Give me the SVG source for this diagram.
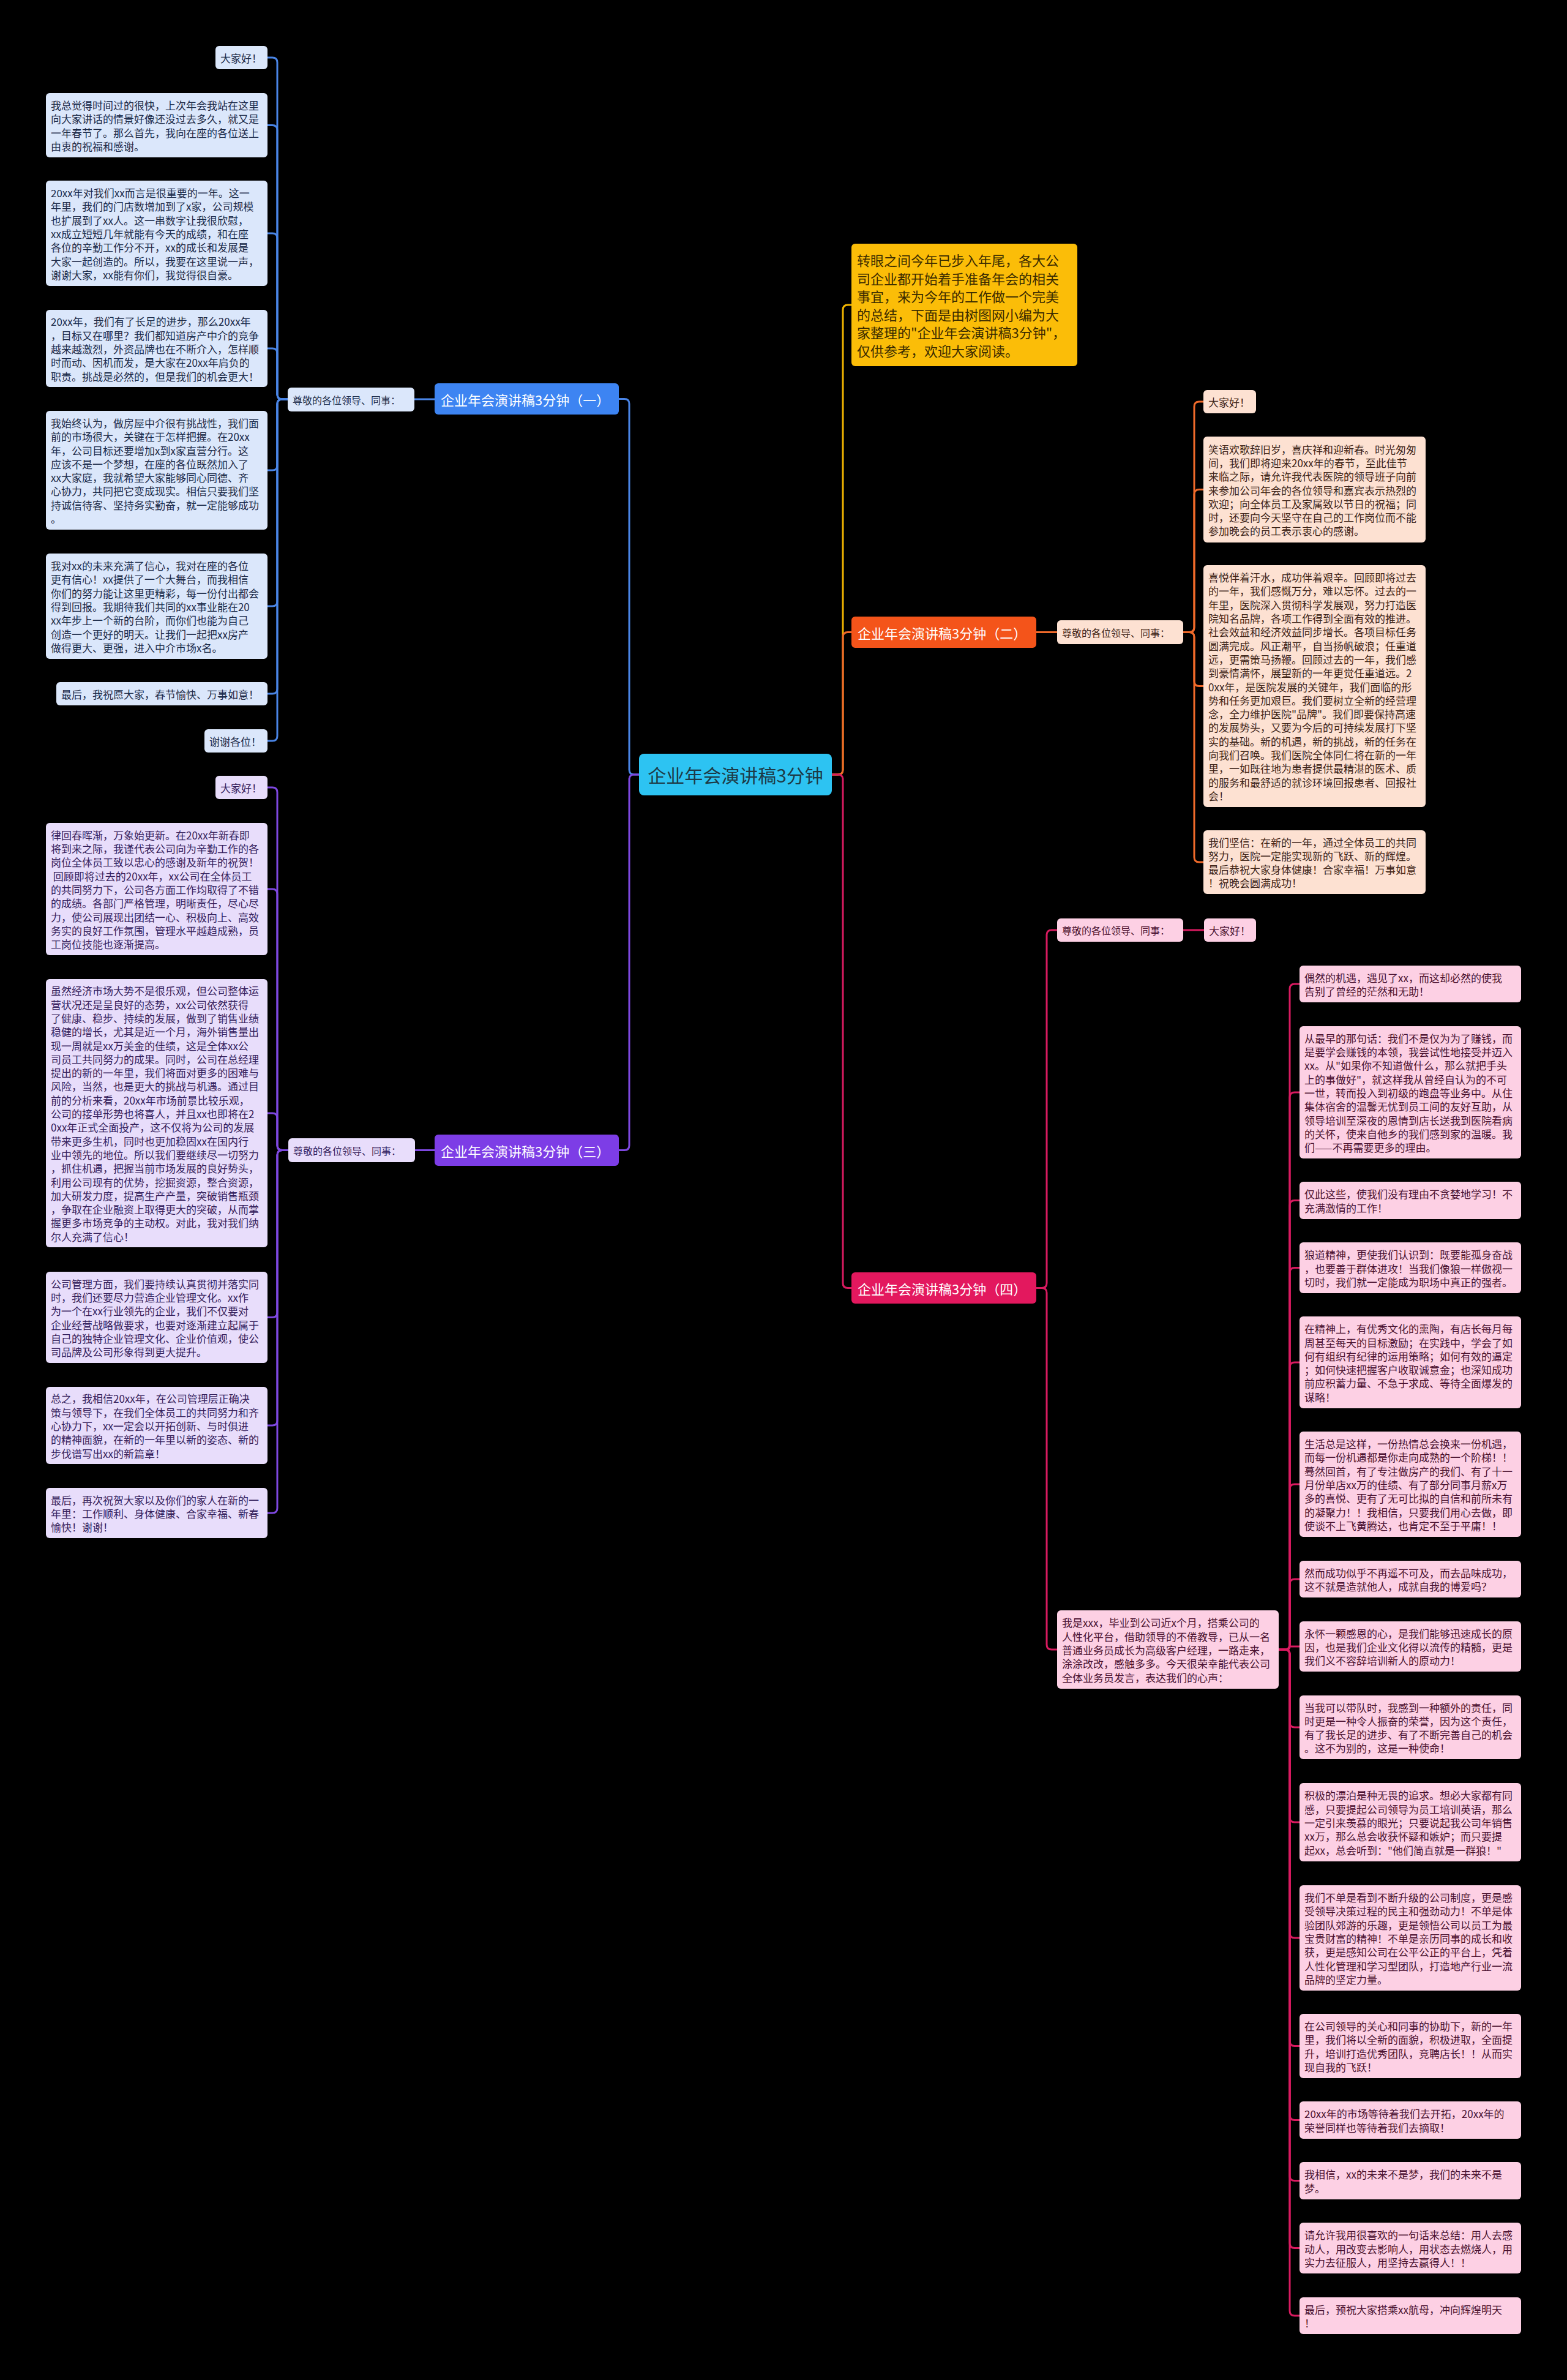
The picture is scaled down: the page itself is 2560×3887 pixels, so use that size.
<svg xmlns="http://www.w3.org/2000/svg" width="2560" height="3887" viewBox="0 0 2560 3887">
<style>
text{font-family:"Noto Sans CJK SC","Noto Sans",sans-serif;dominant-baseline:central}
.t{font-size:17px}
.c1 rect{fill:#dbe7fb}.c1 text{fill:#1b2a48}
.c2 rect{fill:#fde1d2}.c2 text{fill:#3d2418}
.c3 rect{fill:#e8ddfb}.c3 text{fill:#35215c}
.c4 rect{fill:#fdd0e4}.c4 text{fill:#4a1230}
.hd text{fill:#ffffff;font-size:22px}
.lb text{font-size:16px}
.e{fill:none;stroke-width:3;stroke-linecap:round}
.e1{stroke:#4a85e6}.e2{stroke:#f06a2a}.e3{stroke:#7e48e0}.e4{stroke:#d81b60}.e0{stroke:#f0b400}
</style>
<rect width="2560" height="3887" fill="#000"/>

<g id="connectors">
<path class="e e1" d="M1044,1265 L1036,1265 Q1028,1265 1028,1257 L1028,659.5 Q1028,651.5 1020,651.5 L1011,651.5"/>
<path class="e e3" d="M1044,1265 L1036,1265 Q1028,1265 1028,1273 L1028,1870.5 Q1028,1878.5 1020,1878.5 L1011,1878.5"/>
<path class="e e0" d="M1359,1265 L1369,1265 Q1377,1265 1377,1257 L1377,506 Q1377,498 1385,498 L1391,498"/>
<path class="e e2" d="M1359,1265 L1369,1265 Q1377,1265 1377,1257 L1377,1040.5 Q1377,1032.5 1385,1032.5 L1391,1032.5"/>
<path class="e e4" d="M1359,1265 L1369,1265 Q1377,1265 1377,1273 L1377,2095.5 Q1377,2103.5 1385,2103.5 L1391,2103.5"/>

<path class="e e1" d="M710,652 L677,652"/>
<path class="e e1" d="M470,652 L461,652 Q453,652 453,644 L453,102 Q453,94 445,94 L437,94"/>
<path class="e e1" d="M470,652 L461,652 Q453,652 453,644 L453,212.5 Q453,204.5 445,204.5 L437,204.5"/>
<path class="e e1" d="M470,652 L461,652 Q453,652 453,644 L453,389 Q453,381 445,381 L437,381"/>
<path class="e e1" d="M470,652 L461,652 Q453,652 453,644 L453,577 Q453,569 445,569 L437,569"/>
<path class="e e1" d="M470,652 L461,652 Q453,652 453,660 L453,760 Q453,768 445,768 L437,768"/>
<path class="e e1" d="M470,652 L461,652 Q453,652 453,660 L453,982 Q453,990 445,990 L437,990"/>
<path class="e e1" d="M470,652 L461,652 Q453,652 453,660 L453,1125 Q453,1133 445,1133 L437,1133"/>
<path class="e e1" d="M470,652 L461,652 Q453,652 453,660 L453,1202 Q453,1210 445,1210 L437,1210"/>

<path class="e e3" d="M710,1878.5 L678,1878.5"/>
<path class="e e3" d="M471,1878.5 L461,1878.5 Q453,1878.5 453,1870.5 L453,1294 Q453,1286 445,1286 L437,1286"/>
<path class="e e3" d="M471,1878.5 L461,1878.5 Q453,1878.5 453,1870.5 L453,1460 Q453,1452 445,1452 L437,1452"/>
<path class="e e3" d="M471,1878.5 L461,1878.5 Q453,1878.5 453,1870.5 L453,1826 Q453,1818 445,1818 L437,1818"/>
<path class="e e3" d="M471,1878.5 L461,1878.5 Q453,1878.5 453,1886.5 L453,2143.5 Q453,2151.5 445,2151.5 L437,2151.5"/>
<path class="e e3" d="M471,1878.5 L461,1878.5 Q453,1878.5 453,1886.5 L453,2320 Q453,2328 445,2328 L437,2328"/>
<path class="e e3" d="M471,1878.5 L461,1878.5 Q453,1878.5 453,1886.5 L453,2463 Q453,2471 445,2471 L437,2471"/>

<path class="e e2" d="M1693,1032.5 L1727,1032.5"/>
<path class="e e2" d="M1933,1032.5 L1943,1032.5 Q1951,1032.5 1951,1024.5 L1951,664 Q1951,656 1959,656 L1966,656"/>
<path class="e e2" d="M1933,1032.5 L1943,1032.5 Q1951,1032.5 1951,1024.5 L1951,807.5 Q1951,799.5 1959,799.5 L1966,799.5"/>
<path class="e e2" d="M1933,1032.5 L1943,1032.5 Q1951,1032.5 1951,1040.5 L1951,1112.5 Q1951,1120.5 1959,1120.5 L1966,1120.5"/>
<path class="e e2" d="M1933,1032.5 L1943,1032.5 Q1951,1032.5 1951,1040.5 L1951,1400 Q1951,1408 1959,1408 L1966,1408"/>

<path class="e e4" d="M1693,2103.5 L1702,2103.5 Q1710,2103.5 1710,2095.5 L1710,1527 Q1710,1519 1718,1519 L1727,1519"/>
<path class="e e4" d="M1693,2103.5 L1702,2103.5 Q1710,2103.5 1710,2111.5 L1710,2686 Q1710,2694 1718,2694 L1727,2694"/>
<path class="e e4" d="M1933,1519 L1967,1519"/>
<path class="e e4" d="M2089,2694 L2099,2694 Q2107,2694 2107,2686 L2107,1615 Q2107,1607 2115,1607 L2123,1607"/>
<path class="e e4" d="M2089,2694 L2099,2694 Q2107,2694 2107,2686 L2107,1792 Q2107,1784 2115,1784 L2123,1784"/>
<path class="e e4" d="M2089,2694 L2099,2694 Q2107,2694 2107,2686 L2107,1968.5 Q2107,1960.5 2115,1960.5 L2123,1960.5"/>
<path class="e e4" d="M2089,2694 L2099,2694 Q2107,2694 2107,2686 L2107,2078.5 Q2107,2070.5 2115,2070.5 L2123,2070.5"/>
<path class="e e4" d="M2089,2694 L2099,2694 Q2107,2694 2107,2686 L2107,2233 Q2107,2225 2115,2225 L2123,2225"/>
<path class="e e4" d="M2089,2694 L2099,2694 Q2107,2694 2107,2686 L2107,2432 Q2107,2424 2115,2424 L2123,2424"/>
<path class="e e4" d="M2089,2694 L2099,2694 Q2107,2694 2107,2686 L2107,2587 Q2107,2579 2115,2579 L2123,2579"/>
<path class="e e4" d="M2089,2694 L2102,2694 Q2107,2694 2107,2689 L2123,2689"/>
<path class="e e4" d="M2089,2694 L2099,2694 Q2107,2694 2107,2702 L2107,2813 Q2107,2821 2115,2821 L2123,2821"/>
<path class="e e4" d="M2089,2694 L2099,2694 Q2107,2694 2107,2702 L2107,2968 Q2107,2976 2115,2976 L2123,2976"/>
<path class="e e4" d="M2089,2694 L2099,2694 Q2107,2694 2107,2702 L2107,3157 Q2107,3165 2115,3165 L2123,3165"/>
<path class="e e4" d="M2089,2694 L2099,2694 Q2107,2694 2107,2702 L2107,3333.5 Q2107,3341.5 2115,3341.5 L2123,3341.5"/>
<path class="e e4" d="M2089,2694 L2099,2694 Q2107,2694 2107,2702 L2107,3454.5 Q2107,3462.5 2115,3462.5 L2123,3462.5"/>
<path class="e e4" d="M2089,2694 L2099,2694 Q2107,2694 2107,2702 L2107,3553.5 Q2107,3561.5 2115,3561.5 L2123,3561.5"/>
<path class="e e4" d="M2089,2694 L2099,2694 Q2107,2694 2107,2702 L2107,3663.5 Q2107,3671.5 2115,3671.5 L2123,3671.5"/>
<path class="e e4" d="M2089,2694 L2099,2694 Q2107,2694 2107,2702 L2107,3774 Q2107,3782 2115,3782 L2123,3782"/>
</g>

<g id="root">
<rect x="1044" y="1231" width="315" height="68" rx="8" fill="#2dc3f2"/>
<text x="1201.5" y="1265" text-anchor="middle" font-size="30" fill="#1d3a46">企业年会演讲稿3分钟</text>
</g>

<g id="intro">
<rect x="1391" y="398" width="369" height="200" rx="6" fill="#fbbd08"/>
<text x="1400" y="424" font-size="22" fill="#3a2b00"><tspan>转眼之间今年已步入年尾，各大公</tspan><tspan x="1400" dy="29.6">司企业都开始着手准备年会的相关</tspan><tspan x="1400" dy="29.6">事宜，来为今年的工作做一个完美</tspan><tspan x="1400" dy="29.6">的总结，下面是由树图网小编为大</tspan><tspan x="1400" dy="29.6">家整理的"企业年会演讲稿3分钟"，</tspan><tspan x="1400" dy="29.6">仅供参考，欢迎大家阅读。</tspan></text>
</g>

<g id="b1-header" class="hd"><rect x="710" y="626" width="301" height="51" rx="6" fill="#3d84f2"/><text x="720" y="651.5">企业年会演讲稿3分钟（一）</text></g>
<g id="b1-label" class="c1 lb"><rect x="470" y="633" width="207" height="39" rx="6"/><text x="478" y="652.5">尊敬的各位领导、同事：</text></g>
<g id="b1-n1" class="c1 t"><rect x="352" y="75" width="85" height="38" rx="6"/><text x="360" y="94">大家好！</text></g>
<g id="b1-n2" class="c1 t"><rect x="75" y="152" width="362" height="105" rx="6"/><text x="83" y="171.05"><tspan>我总觉得时间过的很快，上次年会我站在这里</tspan><tspan x="83" dy="22.3">向大家讲话的情景好像还没过去多久，就又是</tspan><tspan x="83" dy="22.3">一年春节了。那么首先，我向在座的各位送上</tspan><tspan x="83" dy="22.3">由衷的祝福和感谢。</tspan></text></g>
<g id="b1-n3" class="c1 t"><rect x="75" y="295" width="362" height="172" rx="6"/><text x="83" y="314.1"><tspan>20xx年对我们xx而言是很重要的一年。这一</tspan><tspan x="83" dy="22.3">年里，我们的门店数增加到了x家，公司规模</tspan><tspan x="83" dy="22.3">也扩展到了xx人。这一串数字让我很欣慰，</tspan><tspan x="83" dy="22.3">xx成立短短几年就能有今天的成绩，和在座</tspan><tspan x="83" dy="22.3">各位的辛勤工作分不开，xx的成长和发展是</tspan><tspan x="83" dy="22.3">大家一起创造的。所以，我要在这里说一声，</tspan><tspan x="83" dy="22.3">谢谢大家，xx能有你们，我觉得很自豪。</tspan></text></g>
<g id="b1-n4" class="c1 t"><rect x="75" y="506" width="362" height="126" rx="6"/><text x="83" y="524.4"><tspan>20xx年，我们有了长足的进步，那么20xx年</tspan><tspan x="83" dy="22.3">，目标又在哪里？我们都知道房产中介的竞争</tspan><tspan x="83" dy="22.3">越来越激烈，外资品牌也在不断介入，怎样顺</tspan><tspan x="83" dy="22.3">时而动、因机而发，是大家在20xx年肩负的</tspan><tspan x="83" dy="22.3">职责。挑战是必然的，但是我们的机会更大！</tspan></text></g>
<g id="b1-n5" class="c1 t"><rect x="75" y="671" width="362" height="194" rx="6"/><text x="83" y="689.95"><tspan>我始终认为，做房屋中介很有挑战性，我们面</tspan><tspan x="83" dy="22.3">前的市场很大，关键在于怎样把握。在20xx</tspan><tspan x="83" dy="22.3">年，公司目标还要增加x到x家直营分行。这</tspan><tspan x="83" dy="22.3">应该不是一个梦想，在座的各位既然加入了</tspan><tspan x="83" dy="22.3">xx大家庭，我就希望大家能够同心同德、齐</tspan><tspan x="83" dy="22.3">心协力，共同把它变成现实。相信只要我们坚</tspan><tspan x="83" dy="22.3">持诚信待客、坚持务实勤奋，就一定能够成功</tspan><tspan x="83" dy="22.3">。</tspan></text></g>
<g id="b1-n6" class="c1 t"><rect x="75" y="904" width="362" height="172" rx="6"/><text x="83" y="923.1"><tspan>我对xx的未来充满了信心，我对在座的各位</tspan><tspan x="83" dy="22.3">更有信心！xx提供了一个大舞台，而我相信</tspan><tspan x="83" dy="22.3">你们的努力能让这里更精彩，每一份付出都会</tspan><tspan x="83" dy="22.3">得到回报。我期待我们共同的xx事业能在20</tspan><tspan x="83" dy="22.3">xx年步上一个新的台阶，而你们也能为自己</tspan><tspan x="83" dy="22.3">创造一个更好的明天。让我们一起把xx房产</tspan><tspan x="83" dy="22.3">做得更大、更强，进入中介市场x名。</tspan></text></g>
<g id="b1-n7" class="c1 t"><rect x="92" y="1114" width="345" height="38" rx="6"/><text x="100" y="1133">最后，我祝愿大家，春节愉快、万事如意！</text></g>
<g id="b1-n8" class="c1 t"><rect x="334" y="1191" width="103" height="38" rx="6"/><text x="342" y="1210">谢谢各位！</text></g>

<g id="b3-header" class="hd"><rect x="710" y="1853" width="301" height="51" rx="6" fill="#7d3de6"/><text x="720" y="1878.5">企业年会演讲稿3分钟（三）</text></g>
<g id="b3-label" class="c3 lb"><rect x="471" y="1859" width="207" height="39" rx="6"/><text x="479" y="1879">尊敬的各位领导、同事：</text></g>
<g id="b3-n1" class="c3 t"><rect x="352" y="1267" width="85" height="38" rx="6"/><text x="360" y="1286">大家好！</text></g>
<g id="b3-n2" class="c3 t"><rect x="75" y="1344" width="362" height="216" rx="6"/><text x="83" y="1362.8"><tspan>律回春晖渐，万象始更新。在20xx年新春即</tspan><tspan x="83" dy="22.3">将到来之际，我谨代表公司向为辛勤工作的各</tspan><tspan x="83" dy="22.3">岗位全体员工致以忠心的感谢及新年的祝贺！</tspan><tspan x="83" dy="22.3"> 回顾即将过去的20xx年，xx公司在全体员工</tspan><tspan x="83" dy="22.3">的共同努力下，公司各方面工作均取得了不错</tspan><tspan x="83" dy="22.3">的成绩。各部门严格管理，明晰责任，尽心尽</tspan><tspan x="83" dy="22.3">力，使公司展现出团结一心、积极向上、高效</tspan><tspan x="83" dy="22.3">务实的良好工作氛围，管理水平越趋成熟，员</tspan><tspan x="83" dy="22.3">工岗位技能也逐渐提高。</tspan></text></g>
<g id="b3-n3" class="c3 t"><rect x="75" y="1599" width="362" height="438" rx="6"/><text x="83" y="1617.3"><tspan>虽然经济市场大势不是很乐观，但公司整体运</tspan><tspan x="83" dy="22.3">营状况还是呈良好的态势，xx公司依然获得</tspan><tspan x="83" dy="22.3">了健康、稳步、持续的发展，做到了销售业绩</tspan><tspan x="83" dy="22.3">稳健的增长，尤其是近一个月，海外销售量出</tspan><tspan x="83" dy="22.3">现一周就是xx万美金的佳绩，这是全体xx公</tspan><tspan x="83" dy="22.3">司员工共同努力的成果。同时，公司在总经理</tspan><tspan x="83" dy="22.3">提出的新的一年里，我们将面对更多的困难与</tspan><tspan x="83" dy="22.3">风险，当然，也是更大的挑战与机遇。通过目</tspan><tspan x="83" dy="22.3">前的分析来看，20xx年市场前景比较乐观，</tspan><tspan x="83" dy="22.3">公司的接单形势也将喜人，并且xx也即将在2</tspan><tspan x="83" dy="22.3">0xx年正式全面投产，这不仅将为公司的发展</tspan><tspan x="83" dy="22.3">带来更多生机，同时也更加稳固xx在国内行</tspan><tspan x="83" dy="22.3">业中领先的地位。所以我们要继续尽一切努力</tspan><tspan x="83" dy="22.3">，抓住机遇，把握当前市场发展的良好势头，</tspan><tspan x="83" dy="22.3">利用公司现有的优势，挖掘资源，整合资源，</tspan><tspan x="83" dy="22.3">加大研发力度，提高生产产量，突破销售瓶颈</tspan><tspan x="83" dy="22.3">，争取在企业融资上取得更大的突破，从而掌</tspan><tspan x="83" dy="22.3">握更多市场竞争的主动权。对此，我对我们纳</tspan><tspan x="83" dy="22.3">尔人充满了信心！</tspan></text></g>
<g id="b3-n4" class="c3 t"><rect x="75" y="2077" width="362" height="149" rx="6"/><text x="83" y="2095.75"><tspan>公司管理方面，我们要持续认真贯彻并落实同</tspan><tspan x="83" dy="22.3">时，我们还要尽力营造企业管理文化。xx作</tspan><tspan x="83" dy="22.3">为一个在xx行业领先的企业，我们不仅要对</tspan><tspan x="83" dy="22.3">企业经营战略做要求，也要对逐渐建立起属于</tspan><tspan x="83" dy="22.3">自己的独特企业管理文化、企业价值观，使公</tspan><tspan x="83" dy="22.3">司品牌及公司形象得到更大提升。</tspan></text></g>
<g id="b3-n5" class="c3 t"><rect x="75" y="2265" width="362" height="126" rx="6"/><text x="83" y="2283.4"><tspan>总之，我相信20xx年，在公司管理层正确决</tspan><tspan x="83" dy="22.3">策与领导下，在我们全体员工的共同努力和齐</tspan><tspan x="83" dy="22.3">心协力下，xx一定会以开拓创新、与时俱进</tspan><tspan x="83" dy="22.3">的精神面貌，在新的一年里以新的姿态、新的</tspan><tspan x="83" dy="22.3">步伐谱写出xx的新篇章！</tspan></text></g>
<g id="b3-n6" class="c3 t"><rect x="75" y="2430" width="362" height="82" rx="6"/><text x="83" y="2448.7"><tspan>最后，再次祝贺大家以及你们的家人在新的一</tspan><tspan x="83" dy="22.3">年里：工作顺利、身体健康、合家幸福、新春</tspan><tspan x="83" dy="22.3">愉快！谢谢！</tspan></text></g>

<g id="b2-header" class="hd"><rect x="1391" y="1007" width="302" height="51" rx="6" fill="#f4541a"/><text x="1401" y="1032.5">企业年会演讲稿3分钟（二）</text></g>
<g id="b2-label" class="c2 lb"><rect x="1727" y="1013" width="206" height="39" rx="6"/><text x="1735" y="1032.5">尊敬的各位领导、同事：</text></g>
<g id="b2-n1" class="c2 t"><rect x="1966" y="637" width="86" height="38" rx="6"/><text x="1974" y="656">大家好！</text></g>
<g id="b2-n2" class="c2 t"><rect x="1966" y="713" width="363" height="173" rx="6"/><text x="1974" y="732.6"><tspan>笑语欢歌辞旧岁，喜庆祥和迎新春。时光匆匆</tspan><tspan x="1974" dy="22.3">间，我们即将迎来20xx年的春节，至此佳节</tspan><tspan x="1974" dy="22.3">来临之际，请允许我代表医院的领导班子向前</tspan><tspan x="1974" dy="22.3">来参加公司年会的各位领导和嘉宾表示热烈的</tspan><tspan x="1974" dy="22.3">欢迎；向全体员工及家属致以节日的祝福；同</tspan><tspan x="1974" dy="22.3">时，还要向今天坚守在自己的工作岗位而不能</tspan><tspan x="1974" dy="22.3">参加晚会的员工表示衷心的感谢。</tspan></text></g>
<g id="b2-n3" class="c2 t"><rect x="1966" y="923" width="363" height="395" rx="6"/><text x="1974" y="942.1"><tspan>喜悦伴着汗水，成功伴着艰辛。回顾即将过去</tspan><tspan x="1974" dy="22.3">的一年，我们感慨万分，难以忘怀。过去的一</tspan><tspan x="1974" dy="22.3">年里，医院深入贯彻科学发展观，努力打造医</tspan><tspan x="1974" dy="22.3">院知名品牌，各项工作得到全面有效的推进。</tspan><tspan x="1974" dy="22.3">社会效益和经济效益同步增长。各项目标任务</tspan><tspan x="1974" dy="22.3">圆满完成。风正潮平，自当扬帆破浪；任重道</tspan><tspan x="1974" dy="22.3">远，更需策马扬鞭。回顾过去的一年，我们感</tspan><tspan x="1974" dy="22.3">到豪情满怀，展望新的一年更觉任重道远。2</tspan><tspan x="1974" dy="22.3">0xx年，是医院发展的关键年，我们面临的形</tspan><tspan x="1974" dy="22.3">势和任务更加艰巨。我们要树立全新的经营理</tspan><tspan x="1974" dy="22.3">念，全力维护医院"品牌"。我们即要保持高速</tspan><tspan x="1974" dy="22.3">的发展势头，又要为今后的可持续发展打下坚</tspan><tspan x="1974" dy="22.3">实的基础。新的机遇，新的挑战，新的任务在</tspan><tspan x="1974" dy="22.3">向我们召唤。我们医院全体同仁将在新的一年</tspan><tspan x="1974" dy="22.3">里，一如既往地为患者提供最精湛的医术、质</tspan><tspan x="1974" dy="22.3">的服务和最舒适的就诊环境回报患者、回报社</tspan><tspan x="1974" dy="22.3">会！</tspan></text></g>
<g id="b2-n4" class="c2 t"><rect x="1966" y="1356" width="363" height="104" rx="6"/><text x="1974" y="1374.55"><tspan>我们坚信：在新的一年，通过全体员工的共同</tspan><tspan x="1974" dy="22.3">努力，医院一定能实现新的飞跃、新的辉煌。</tspan><tspan x="1974" dy="22.3">最后恭祝大家身体健康！合家幸福！万事如意</tspan><tspan x="1974" dy="22.3">！祝晚会圆满成功！</tspan></text></g>

<g id="b4-header" class="hd"><rect x="1391" y="2078" width="302" height="51" rx="6" fill="#e3185e"/><text x="1401" y="2103.5">企业年会演讲稿3分钟（四）</text></g>
<g id="b4-label" class="c4 lb"><rect x="1727" y="1500" width="206" height="38" rx="6"/><text x="1735" y="1519">尊敬的各位领导、同事：</text></g>
<g id="b4-hello" class="c4 t"><rect x="1967" y="1500" width="85" height="38" rx="6"/><text x="1975" y="1519">大家好！</text></g>
<g id="b4-me" class="c4 t"><rect x="1727" y="2630" width="362" height="128" rx="6"/><text x="1735" y="2649.4"><tspan>我是xxx，毕业到公司近x个月，搭乘公司的</tspan><tspan x="1735" dy="22.3">人性化平台，借助领导的不倦教导，已从一名</tspan><tspan x="1735" dy="22.3">普通业务员成长为高级客户经理，一路走来，</tspan><tspan x="1735" dy="22.3">涂涂改改，感触多多。今天很荣幸能代表公司</tspan><tspan x="1735" dy="22.3">全体业务员发言，表达我们的心声：</tspan></text></g>
<g id="b4-n1" class="c4 t"><rect x="2123" y="1577" width="362" height="60" rx="6"/><text x="2131" y="1595.85"><tspan>偶然的机遇，遇见了xx，而这却必然的使我</tspan><tspan x="2131" dy="22.3">告别了曾经的茫然和无助！</tspan></text></g>
<g id="b4-n2" class="c4 t"><rect x="2123" y="1676" width="362" height="216" rx="6"/><text x="2131" y="1694.8"><tspan>从最早的那句话：我们不是仅为为了赚钱，而</tspan><tspan x="2131" dy="22.3">是要学会赚钱的本领，我尝试性地接受并迈入</tspan><tspan x="2131" dy="22.3">xx。从"如果你不知道做什么，那么就把手头</tspan><tspan x="2131" dy="22.3">上的事做好"，就这样我从曾经自认为的不可</tspan><tspan x="2131" dy="22.3">一世，转而投入到初级的跑盘等业务中。从住</tspan><tspan x="2131" dy="22.3">集体宿舍的温馨无忧到员工间的友好互助，从</tspan><tspan x="2131" dy="22.3">领导培训至深夜的恩情到店长送我到医院看病</tspan><tspan x="2131" dy="22.3">的关怀，使来自他乡的我们感到家的温暖。我</tspan><tspan x="2131" dy="22.3">们——不再需要更多的理由。</tspan></text></g>
<g id="b4-n3" class="c4 t"><rect x="2123" y="1930" width="362" height="61" rx="6"/><text x="2131" y="1949.35"><tspan>仅此这些，使我们没有理由不贪婪地学习！不</tspan><tspan x="2131" dy="22.3">充满激情的工作！</tspan></text></g>
<g id="b4-n4" class="c4 t"><rect x="2123" y="2029" width="362" height="83" rx="6"/><text x="2131" y="2048.2"><tspan>狼道精神，更使我们认识到：既要能孤身奋战</tspan><tspan x="2131" dy="22.3">，也要善于群体进攻！当我们像狼一样傲视一</tspan><tspan x="2131" dy="22.3">切时，我们就一定能成为职场中真正的强者。</tspan></text></g>
<g id="b4-n5" class="c4 t"><rect x="2123" y="2150" width="362" height="150" rx="6"/><text x="2131" y="2169.25"><tspan>在精神上，有优秀文化的熏陶，有店长每月每</tspan><tspan x="2131" dy="22.3">周甚至每天的目标激励；在实践中，学会了如</tspan><tspan x="2131" dy="22.3">何有组织有纪律的运用策略；如何有效的逼定</tspan><tspan x="2131" dy="22.3">；如何快速把握客户收取诚意金；也深知成功</tspan><tspan x="2131" dy="22.3">前应积蓄力量、不急于求成、等待全面爆发的</tspan><tspan x="2131" dy="22.3">谋略！</tspan></text></g>
<g id="b4-n6" class="c4 t"><rect x="2123" y="2338" width="362" height="172" rx="6"/><text x="2131" y="2357.1"><tspan>生活总是这样，一份热情总会换来一份机遇，</tspan><tspan x="2131" dy="22.3">而每一份机遇都是你走向成熟的一个阶梯！！</tspan><tspan x="2131" dy="22.3">蓦然回首，有了专注做房产的我们、有了十一</tspan><tspan x="2131" dy="22.3">月份单店xx万的佳绩、有了部分同事月薪x万</tspan><tspan x="2131" dy="22.3">多的喜悦、更有了无可比拟的自信和前所未有</tspan><tspan x="2131" dy="22.3">的凝聚力！！我相信，只要我们用心去做，即</tspan><tspan x="2131" dy="22.3">使谈不上飞黄腾达，也肯定不至于平庸！！</tspan></text></g>
<g id="b4-n7" class="c4 t"><rect x="2123" y="2549" width="362" height="60" rx="6"/><text x="2131" y="2567.85"><tspan>然而成功似乎不再遥不可及，而去品味成功，</tspan><tspan x="2131" dy="22.3">这不就是造就他人，成就自我的博爱吗？</tspan></text></g>
<g id="b4-n8" class="c4 t"><rect x="2123" y="2648" width="362" height="82" rx="6"/><text x="2131" y="2666.7"><tspan>永怀一颗感恩的心，是我们能够迅速成长的原</tspan><tspan x="2131" dy="22.3">因，也是我们企业文化得以流传的精髓，更是</tspan><tspan x="2131" dy="22.3">我们义不容辞培训新人的原动力！</tspan></text></g>
<g id="b4-n9" class="c4 t"><rect x="2123" y="2769" width="362" height="104" rx="6"/><text x="2131" y="2787.55"><tspan>当我可以带队时，我感到一种额外的责任，同</tspan><tspan x="2131" dy="22.3">时更是一种令人振奋的荣誉，因为这个责任，</tspan><tspan x="2131" dy="22.3">有了我长足的进步、有了不断完善自己的机会</tspan><tspan x="2131" dy="22.3">。这不为别的，这是一种使命！</tspan></text></g>
<g id="b4-n10" class="c4 t"><rect x="2123" y="2912" width="362" height="128" rx="6"/><text x="2131" y="2931.4"><tspan>积极的漂泊是种无畏的追求。想必大家都有同</tspan><tspan x="2131" dy="22.3">感，只要提起公司领导为员工培训英语，那么</tspan><tspan x="2131" dy="22.3">一定引来羡慕的眼光；只要说起我公司年销售</tspan><tspan x="2131" dy="22.3">xx万，那么总会收获怀疑和嫉妒；而只要提</tspan><tspan x="2131" dy="22.3">起xx，总会听到："他们简直就是一群狼！"</tspan></text></g>
<g id="b4-n11" class="c4 t"><rect x="2123" y="3079" width="362" height="172" rx="6"/><text x="2131" y="3098.1"><tspan>我们不单是看到不断升级的公司制度，更是感</tspan><tspan x="2131" dy="22.3">受领导决策过程的民主和强劲动力！不单是体</tspan><tspan x="2131" dy="22.3">验团队郊游的乐趣，更是领悟公司以员工为最</tspan><tspan x="2131" dy="22.3">宝贵财富的精神！不单是亲历同事的成长和收</tspan><tspan x="2131" dy="22.3">获，更是感知公司在公平公正的平台上，凭着</tspan><tspan x="2131" dy="22.3">人性化管理和学习型团队，打造地产行业一流</tspan><tspan x="2131" dy="22.3">品牌的坚定力量。</tspan></text></g>
<g id="b4-n12" class="c4 t"><rect x="2123" y="3289" width="362" height="105" rx="6"/><text x="2131" y="3308.05"><tspan>在公司领导的关心和同事的协助下，新的一年</tspan><tspan x="2131" dy="22.3">里，我们将以全新的面貌，积极进取，全面提</tspan><tspan x="2131" dy="22.3">升，培训打造优秀团队，竞聘店长！！从而实</tspan><tspan x="2131" dy="22.3">现自我的飞跃！</tspan></text></g>
<g id="b4-n13" class="c4 t"><rect x="2123" y="3432" width="362" height="61" rx="6"/><text x="2131" y="3451.35"><tspan>20xx年的市场等待着我们去开拓，20xx年的</tspan><tspan x="2131" dy="22.3">荣誉同样也等待着我们去摘取！</tspan></text></g>
<g id="b4-n14" class="c4 t"><rect x="2123" y="3531" width="362" height="61" rx="6"/><text x="2131" y="3550.35"><tspan>我相信，xx的未来不是梦，我们的未来不是</tspan><tspan x="2131" dy="22.3">梦。</tspan></text></g>
<g id="b4-n15" class="c4 t"><rect x="2123" y="3630" width="362" height="83" rx="6"/><text x="2131" y="3649.2"><tspan>请允许我用很喜欢的一句话来总结：用人去感</tspan><tspan x="2131" dy="22.3">动人，用改变去影响人，用状态去燃烧人，用</tspan><tspan x="2131" dy="22.3">实力去征服人，用坚持去赢得人！！</tspan></text></g>
<g id="b4-n16" class="c4 t"><rect x="2123" y="3752" width="362" height="60" rx="6"/><text x="2131" y="3770.85"><tspan>最后，预祝大家搭乘xx航母，冲向辉煌明天</tspan><tspan x="2131" dy="22.3">！</tspan></text></g>
</svg>
